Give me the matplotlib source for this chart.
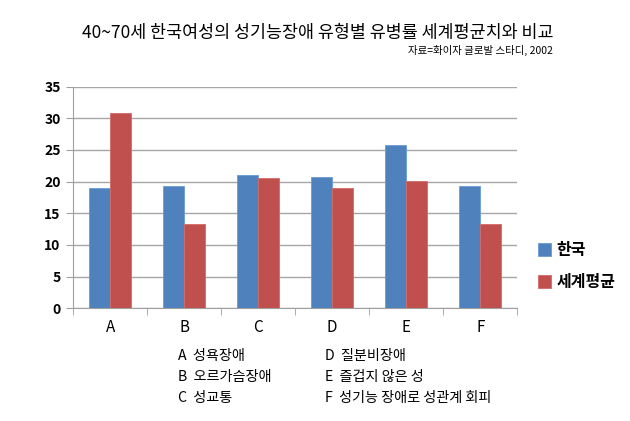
import numpy as np
import matplotlib.pyplot as plt

plt.rcParams['font.family'] = ['Noto Sans CJK KR', 'DejaVu Sans']

categories = ['A', 'B', 'C', 'D', 'E', 'F']
korea = [19.0, 19.3, 21.0, 20.7, 25.8, 19.3]
world = [30.8, 13.35, 20.6, 19.0, 20.1, 13.35]
series_names = ['한국', '세계평균']
notes_left = ['A  성욕장애', 'B  오르가슴장애', 'C  성교통']
notes_right = ['D  질분비장애', 'E  즐겁지 않은 성', 'F  성기능 장애로 성관계 회피']

fig = plt.figure(figsize=(6.3, 4.21), dpi=100)
ax = fig.add_axes([0.116, 0.268, 0.705, 0.526])

x = np.arange(len(categories))
w = 0.28
ax.bar(x - w / 2, korea, w, color='#4F81BD', edgecolor='#6A9AD4', linewidth=0.6,
       label=series_names[0], zorder=3)
ax.bar(x + w / 2, world, w, color='#C0504D', edgecolor='#D46A66', linewidth=0.6,
       label=series_names[1], zorder=3)

ax.set_xlim(-0.5, len(categories) - 0.5)
ax.set_ylim(0, 35)
ax.set_yticks(range(0, 36, 5))
ax.set_yticklabels([str(v) for v in range(0, 36, 5)], fontsize=10, fontweight='bold')
ax.set_xticks(x)
ax.set_xticklabels(categories, fontsize=11)
ax.set_xticks(np.arange(-0.5, len(categories)), minor=True)
ax.tick_params(axis='x', which='major', length=0, pad=8)
ax.tick_params(axis='x', which='minor', length=5, color='#A0A0A0')
ax.tick_params(axis='y', length=5, color='#A0A0A0', pad=4)
ax.grid(axis='y', color='#A6A6A6', linewidth=1, zorder=0)
for s in ['top', 'right']:
    ax.spines[s].set_visible(False)
for s in ['left', 'bottom']:
    ax.spines[s].set_color('#A0A0A0')

ax.legend(loc='center left', bbox_to_anchor=(1.015, 0.19), frameon=False,
          handlelength=0.8, handleheight=0.8, handletextpad=0.35,
          labelspacing=1.0, prop={'weight': 'bold', 'size': 11.5})

fig.text(0.505, 0.922, '40~70세 한국여성의 성기능장애 유형별 유병률 세계평균치와 비교',
         ha='center', va='center', fontsize=12.5)
fig.text(0.878, 0.88, '자료=화이자 글로발 스타디, 2002', ha='right', va='center', fontsize=7.5)

for i, (l, r) in enumerate(zip(notes_left, notes_right)):
    yy = 0.155 - i * 0.05
    fig.text(0.283, yy, l, ha='left', va='center', fontsize=10.2)
    fig.text(0.516, yy, r, ha='left', va='center', fontsize=10.2)

fig.savefig('out.png', dpi=100)
